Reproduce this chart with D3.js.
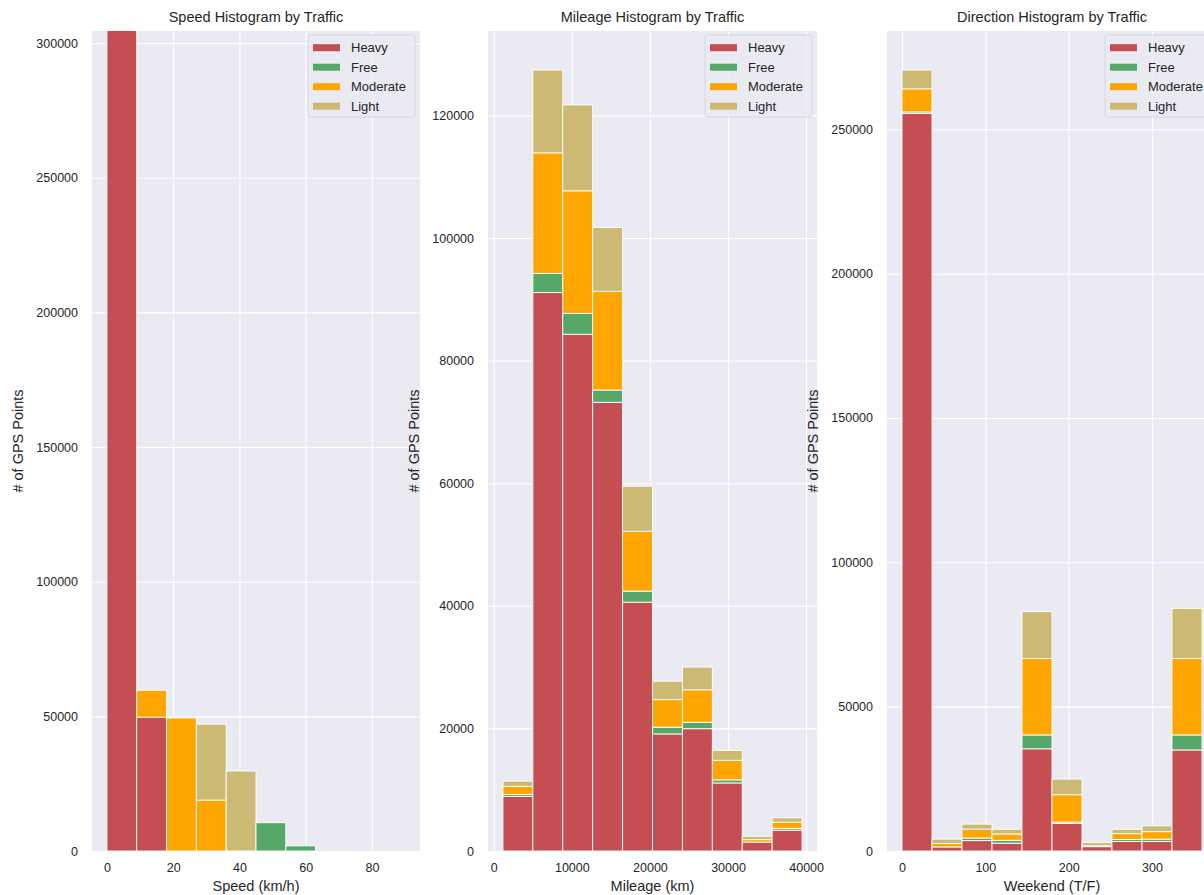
<!DOCTYPE html>
<html><head><meta charset="utf-8">
<script src="https://cdn.jsdelivr.net/npm/d3@7"></script>
<style>
body{margin:0;background:#fff;}
text{font-family:"Liberation Sans",Arial,sans-serif;fill:#262626;}
</style>
</head><body>
<svg id="chart" width="1204" height="895"></svg>
<script>
// ---- data ----
const trafficClasses = ["Heavy", "Free", "Moderate", "Light"];
const trafficColors = ["#C44E52", "#55A868", "#FFA500", "#CCB974"];

const speedEdges = [0, 9, 18, 27, 36, 45, 54, 63, 72, 81, 90];
const speedHeavy = [310000, 49700, 0, 0, 0, 0, 0, 0, 0, 0];
const speedFree = [0, 0, 0, 0, 0, 10500, 1900, 0, 0, 0];
const speedModerate = [0, 10000, 49400, 18900, 0, 0, 0, 0, 0, 0];
const speedLight = [0, 0, 0, 28200, 29700, 0, 0, 0, 0, 0];
const speedXTicks = [0, 20, 40, 60, 80];
const speedYTicks = [0, 50000, 100000, 150000, 200000, 250000, 300000];

const mileageEdges = [1180, 5010, 8840, 12670, 16500, 20330, 24160, 27990, 31820, 35650, 39480];
const mileageHeavy = [8900, 91100, 84300, 73200, 40600, 19100, 19950, 11100, 1450, 3400];
const mileageFree = [300, 3100, 3400, 2000, 1800, 1100, 1050, 500, 0, 300];
const mileageModerate = [1350, 19700, 20000, 16100, 9760, 4500, 5300, 3200, 400, 1000];
const mileageLight = [850, 13500, 14000, 10400, 7340, 3000, 3700, 1600, 550, 700];
const mileageXTicks = [0, 10000, 20000, 30000, 40000];
const mileageYTicks = [0, 20000, 40000, 60000, 80000, 100000, 120000];

const directionEdges = [0, 36, 72, 108, 144, 180, 216, 252, 288, 324, 360];
const directionHeavy = [255500, 1400, 3600, 2700, 35400, 9600, 1500, 3300, 3300, 35000];
const directionFree = [500, 0, 900, 1000, 4800, 400, 0, 700, 800, 5200];
const directionModerate = [8000, 1200, 3100, 2200, 26500, 9500, 300, 2000, 2600, 26500];
const directionLight = [6500, 1500, 1700, 1600, 16200, 5400, 1100, 1500, 2000, 17300];
const directionXTicks = [0, 100, 200, 300];
const directionYTicks = [0, 50000, 100000, 150000, 200000, 250000];

const panelTitles = ["Speed Histogram by Traffic", "Mileage Histogram by Traffic", "Direction Histogram by Traffic"];
const xLabels = ["Speed (km/h)", "Mileage (km)", "Weekend (T/F)"];
const yLabel = "# of GPS Points";
const yLimits = [304500, null, null];

// ---- layout ----
const svg = d3.select("#chart");
const plotTop = 31, plotBottom = 851;
const layout = [{left: 92, right: 420}, {left: 488, right: 817}, {left: 887, right: 1217}];

const panels = [
  {edges: speedEdges, series: [speedHeavy, speedFree, speedModerate, speedLight], xTicks: speedXTicks, yTicks: speedYTicks},
  {edges: mileageEdges, series: [mileageHeavy, mileageFree, mileageModerate, mileageLight], xTicks: mileageXTicks, yTicks: mileageYTicks},
  {edges: directionEdges, series: [directionHeavy, directionFree, directionModerate, directionLight], xTicks: directionXTicks, yTicks: directionYTicks}
];

panels.forEach((p, pi) => {
  const L = layout[pi];
  const lo = p.edges[0], hi = p.edges[p.edges.length - 1];
  const pad = (hi - lo) * 0.05;
  const x = d3.scaleLinear().domain([lo - pad, hi + pad]).range([L.left, L.right]);
  const nb = p.edges.length - 1;
  const totals = d3.range(nb).map(j => d3.sum(p.series, s => s[j]));
  const yMax = yLimits[pi] != null ? yLimits[pi] : d3.max(totals) * 1.05;
  const y = d3.scaleLinear().domain([0, yMax]).range([plotBottom, plotTop]);

  const g = svg.append("g");
  const clipId = "clip" + pi;
  svg.append("defs").append("clipPath").attr("id", clipId)
    .append("rect").attr("x", L.left).attr("y", plotTop)
    .attr("width", L.right - L.left).attr("height", plotBottom - plotTop);

  g.append("rect").attr("x", L.left).attr("y", plotTop)
    .attr("width", L.right - L.left).attr("height", plotBottom - plotTop)
    .attr("fill", "#EAEAF2");

  // grid via axes
  const yAxis = d3.axisLeft(y).tickValues(p.yTicks).tickSize(-(L.right - L.left)).tickPadding(14).tickFormat(d3.format("d"));
  const yg = g.append("g").attr("transform", `translate(${L.left},0)`).call(yAxis);
  yg.select(".domain").remove();
  yg.selectAll(".tick line").attr("stroke", "#fff").attr("stroke-width", 1.1);
  yg.selectAll(".tick text").attr("font-size", 12.5).attr("fill", "#262626")
    .attr("font-family", '"Liberation Sans", Arial, sans-serif');

  const xAxis = d3.axisBottom(x).tickValues(p.xTicks).tickSize(-(plotBottom - plotTop)).tickPadding(12).tickFormat(d3.format("d"));
  const xg = g.append("g").attr("transform", `translate(0,${plotBottom})`).call(xAxis);
  xg.select(".domain").remove();
  xg.selectAll(".tick line").attr("stroke", "#fff").attr("stroke-width", 1.1);
  xg.selectAll(".tick text").attr("font-size", 12.5).attr("fill", "#262626")
    .attr("font-family", '"Liberation Sans", Arial, sans-serif');

  // stacked bars
  const barsG = g.append("g").attr("clip-path", `url(#${clipId})`);
  const rects = [];
  d3.range(nb).forEach(j => {
    let base = 0;
    p.series.forEach((s, si) => {
      const v = s[j];
      if (v > 0) rects.push({x0: p.edges[j], x1: p.edges[j + 1], y0: base, y1: base + v, c: trafficColors[si]});
      base += v;
    });
  });
  barsG.selectAll("rect").data(rects).join("rect")
    .attr("x", d => x(d.x0)).attr("width", d => x(d.x1) - x(d.x0))
    .attr("y", d => y(d.y1)).attr("height", d => y(d.y0) - y(d.y1))
    .attr("fill", d => d.c).attr("stroke", "#fff").attr("stroke-width", 0.9);

  // title & labels
  const cx = (L.left + L.right) / 2;
  svg.append("text").attr("x", cx).attr("y", 22).attr("text-anchor", "middle")
    .attr("font-size", 14.5).text(panelTitles[pi]);
  svg.append("text").attr("x", cx).attr("y", 891).attr("text-anchor", "middle")
    .attr("font-size", 14.5).text(xLabels[pi]);
  svg.append("text").attr("transform", `translate(${L.left - 69},${(plotTop + plotBottom) / 2}) rotate(-90)`)
    .attr("text-anchor", "middle").attr("font-size", 14.5).text(yLabel);

  // legend
  const lw = 107, lx = L.right - 5 - lw, ly = 35;
  const lg = svg.append("g");
  lg.append("rect").attr("x", lx).attr("y", ly).attr("width", lw).attr("height", 82)
    .attr("rx", 2.5).attr("fill", "#EAEAF2").attr("fill-opacity", 0.8)
    .attr("stroke", "#d6d6de").attr("stroke-width", 1);
  trafficClasses.forEach((name, i) => {
    const ry = ly + 12.7 + i * 19.5;
    lg.append("rect").attr("x", lx + 5).attr("y", ry - 3.5).attr("width", 27).attr("height", 7)
      .attr("fill", trafficColors[i]);
    lg.append("text").attr("x", lx + 43).attr("y", ry + 4.5).attr("font-size", 13).text(name);
  });
});
</script>
</body></html>
